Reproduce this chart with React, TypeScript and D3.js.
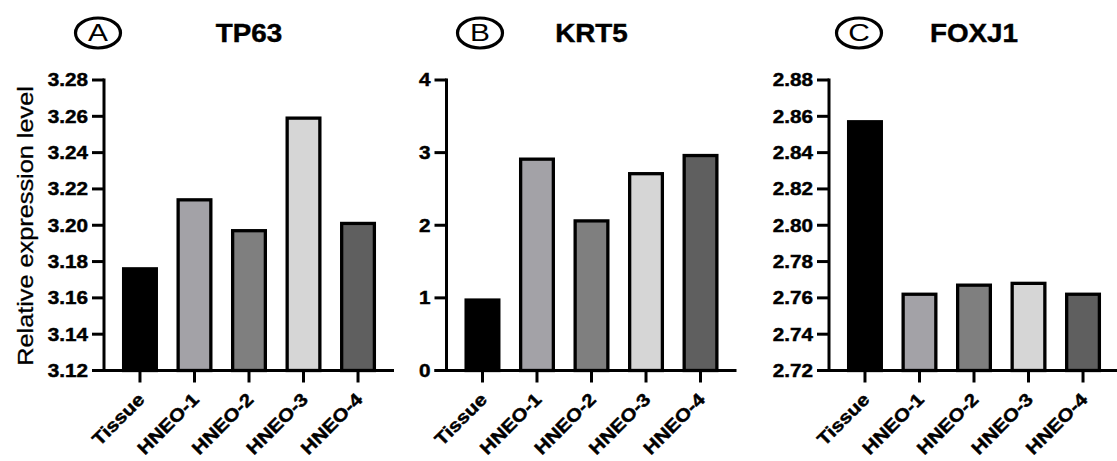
import React from "react";
import * as d3 from "d3";

const categories = ["Tissue", "HNEO-1", "HNEO-2", "HNEO-3", "HNEO-4"];
const barColors = ["#000000", "#a3a2a7", "#7f7f7f", "#d6d6d6", "#5f5f5f"];

const tp63Values = [3.176, 3.214, 3.197, 3.259, 3.201];
const krt5Values = [0.97, 2.91, 2.06, 2.71, 2.96];
const foxj1Values = [2.857, 2.762, 2.767, 2.768, 2.762];

const tp63Ticks = [3.12, 3.14, 3.16, 3.18, 3.2, 3.22, 3.24, 3.26, 3.28];
const krt5Ticks = [0, 1, 2, 3, 4];
const foxj1Ticks = [2.72, 2.74, 2.76, 2.78, 2.8, 2.82, 2.84, 2.86, 2.88];

const yTitle = "Relative expression level";

const panels = [
  { letter: "A", gene: "TP63", values: tp63Values, ticks: tp63Ticks, fmt: ".2f", axisX: 104, circleX: 98 },
  { letter: "B", gene: "KRT5", values: krt5Values, ticks: krt5Ticks, fmt: "d", axisX: 446.5, circleX: 480 },
  { letter: "C", gene: "FOXJ1", values: foxj1Values, ticks: foxj1Ticks, fmt: ".2f", axisX: 829, circleX: 859 },
];

const FONT = "'Liberation Sans', Arial, sans-serif";
const top = 80;
const bottom = 370.5;
const axisLen = 290;
const tickLen = 12;

// heavier text like the exported figure
const heavy = { stroke: "#000", strokeWidth: 0.45, paintOrder: "stroke" };

function Panel({ p }) {
  const y = d3.scaleLinear().domain([p.ticks[0], p.ticks[p.ticks.length - 1]]).range([bottom, top]);
  const x = d3.scaleBand().domain(categories).range([p.axisX, p.axisX + axisLen]).paddingInner(0.4).paddingOuter(0.36);
  const fmt = d3.format(p.fmt);

  return (
    <g>
      {/* circled letter + gene title */}
      <ellipse cx={p.circleX} cy={33} rx={22.5} ry={15} fill="none" stroke="#000" strokeWidth={3.2} />
      <text transform={`translate(${p.circleX},41) scale(1.3,1)`} textAnchor="middle" fontSize={23} fontFamily={FONT}>
        {p.letter}
      </text>
      <text transform={`translate(${p.axisX + axisLen / 2},41.5) scale(1.07,1)`} textAnchor="middle" fontSize={26} fontWeight="bold" fontFamily={FONT} style={heavy}>
        {p.gene}
      </text>

      {/* bars */}
      {p.values.map((v, i) => (
        <rect
          key={categories[i]}
          x={x(categories[i])}
          y={y(v)}
          width={x.bandwidth()}
          height={y(p.ticks[0]) - y(v)}
          fill={barColors[i]}
          stroke="#000"
          strokeWidth={3.3}
        />
      ))}

      {/* y axis */}
      <line x1={p.axisX} x2={p.axisX} y1={top - 1.5} y2={bottom} stroke="#000" strokeWidth={3} />
      {p.ticks.map((t) => (
        <g key={t}>
          <line x1={p.axisX - tickLen} x2={p.axisX} y1={y(t)} y2={y(t)} stroke="#000" strokeWidth={3} />
          <text
            transform={`translate(${p.axisX - tickLen - 4},${y(t)}) scale(1.15,1)`}
            dy="0.36em"
            textAnchor="end"
            fontSize={18}
            fontWeight="bold"
            fontFamily={FONT}
            style={heavy}
          >
            {fmt(t)}
          </text>
        </g>
      ))}

      {/* x axis */}
      <line x1={p.axisX - tickLen} x2={p.axisX + axisLen} y1={bottom} y2={bottom} stroke="#000" strokeWidth={3} />
      {categories.map((c) => {
        const cx = x(c) + x.bandwidth() / 2;
        return (
          <g key={c}>
            <line x1={cx} x2={cx} y1={bottom} y2={bottom + tickLen} stroke="#000" strokeWidth={3} />
            <text
              transform={`translate(${cx + 1},396) rotate(-45) scale(1.15,1)`}
              dy="0.36em"
              textAnchor="end"
              fontSize={18}
              fontWeight="bold"
              fontFamily={FONT}
              style={heavy}
            >
              {c}
            </text>
          </g>
        );
      })}
    </g>
  );
}

export default function App() {
  return (
    <svg width={1117} height={461} style={{ position: "absolute", left: 0, top: 0, background: "#fff" }}>
      <text
        transform="translate(33,226) rotate(-90) scale(1.15,1)"
        textAnchor="middle"
        fontSize={22}
        fontFamily={FONT}
        style={{ stroke: "#000", strokeWidth: 0.3 }}
      >
        {yTitle}
      </text>
      {panels.map((p) => (
        <Panel key={p.gene} p={p} />
      ))}
    </svg>
  );
}
